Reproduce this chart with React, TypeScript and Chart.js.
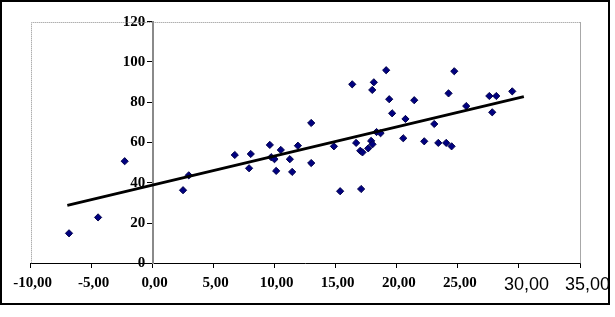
import React, { useEffect, useRef } from "react";
import { Chart, registerables } from "chart.js";

Chart.register(...registerables);

const xValues = [
  -6.86, -4.48, -2.3, 2.48, 2.95, 6.72, 8.03, 7.89, 9.59, 9.7, 9.97, 10.11, 10.49,
  11.23, 11.42, 11.89, 12.98, 12.98, 14.84, 15.35, 17.07, 16.34, 18.11, 17.98, 19.12,
  19.37, 21.42, 19.61, 20.7, 23.06, 16.66, 17.0, 17.18, 17.65, 17.89, 18.0, 18.33,
  18.66, 20.52, 22.24, 23.39, 24.04, 24.23, 24.48, 24.7, 25.68, 27.57, 28.14, 29.45,
  27.81,
];
const yValues = [
  14.9, 22.8, 50.7, 36.3, 43.7, 53.8, 54.3, 47.2, 58.8, 52.7, 51.7, 45.9, 56.3,
  51.7, 45.4, 58.4, 69.7, 49.8, 58.1, 35.8, 36.9, 88.9, 89.9, 86.1, 95.9,
  81.5, 81.0, 74.5, 71.7, 69.2, 59.8, 55.9, 55.1, 57.1, 60.8, 59.1, 65.2,
  64.6, 62.1, 60.6, 59.8, 59.8, 84.4, 58.1, 95.4, 78.1, 83.1, 83.1, 85.4,
  75.0,
];
const trendX = [-7.0, 30.4];
const trendY = [28.8, 82.8];
const xTicks = [-10, -5, 0, 5, 10, 15, 20, 25, 30, 35];
const yTicks = [0, 20, 40, 60, 80, 100, 120];

const plotBorder = {
  id: "plotBorder",
  beforeDatasetsDraw(chart: any) {
    const { ctx, chartArea: a } = chart;
    ctx.save();
    ctx.lineWidth = 1;
    ctx.strokeStyle = "#8c8c8c";
    ctx.setLineDash([1, 1]);
    ctx.beginPath();
    ctx.moveTo(Math.round(a.left) + 0.5, a.bottom);
    ctx.lineTo(Math.round(a.left) + 0.5, Math.round(a.top) + 0.5);
    ctx.lineTo(a.right, Math.round(a.top) + 0.5);
    ctx.stroke();
    ctx.setLineDash([]);
    ctx.strokeStyle = "#a8a8a8";
    ctx.beginPath();
    ctx.moveTo(Math.round(a.right) + 0.5, Math.round(a.top));
    ctx.lineTo(Math.round(a.right) + 0.5, a.bottom);
    ctx.stroke();
    ctx.restore();
  },
};

const serifFont = { family: "'Liberation Serif', 'Times New Roman', serif", size: 15, weight: "bold" };
const sansFont = { family: "'Liberation Sans', Arial, sans-serif", size: 18, weight: "normal" };

const noPad = (s: any) => {
  s.paddingLeft = 0;
  s.paddingRight = 0;
  s.paddingTop = 0;
  s.paddingBottom = 0;
};

export default function App() {
  const ref = useRef<HTMLCanvasElement>(null);
  useEffect(() => {
    if (!ref.current) return;
    const points = xValues.map((x, i) => ({ x, y: yValues[i] }));
    const trend = trendX.map((x, i) => ({ x, y: trendY[i] }));
    const chart = new Chart(ref.current, {
      type: "scatter",
      data: {
        datasets: [
          {
            type: "line",
            data: trend,
            borderColor: "#000000",
            borderWidth: 2.8,
            pointRadius: 0,
            showLine: true,
            fill: false,
          } as any,
          {
            data: points,
            pointStyle: "rectRot",
            pointRadius: 3.6,
            backgroundColor: "#000080",
            borderColor: "#00004a",
            borderWidth: 1,
          },
        ],
      },
      options: {
        animation: false,
        responsive: false,
        devicePixelRatio: 1,
        layout: { padding: { left: 30.7, top: 21.7, right: 28, bottom: 39.7 } },
        plugins: { legend: { display: false }, tooltip: { enabled: false } },
        scales: {
          x: {
            type: "linear",
            position: { y: 0 } as any,
            min: -10,
            max: 35,
            afterBuildTicks: (s: any) => {
              s.ticks = xTicks.map((v) => ({ value: v }));
            },
            afterFit: noPad,
            grid: {
              display: true,
              drawOnChartArea: false,
              drawTicks: true,
              tickLength: 4,
              tickColor: "#000000",
            },
            border: { display: true, color: "#000000", width: 1 },
            ticks: {
              padding: 7,
              color: "#000000",
              maxRotation: 0,
              autoSkip: false,
              callback: (v: any) => {
                const s = Number(v).toFixed(2).replace(".", ",");
                return Number(v) >= 30 ? "   " + s : " " + s;
              },
              font: (c: any) => (c.tick && c.tick.value >= 30 ? sansFont : serifFont),
            },
          },
          y: {
            type: "linear",
            position: { x: 0 } as any,
            min: 0,
            max: 120,
            afterBuildTicks: (s: any) => {
              s.ticks = yTicks.map((v) => ({ value: v }));
            },
            afterFit: noPad,
            grid: {
              display: true,
              drawOnChartArea: false,
              drawTicks: true,
              tickLength: 5,
              tickColor: "#000000",
            },
            border: { display: true, color: "#8a8a8a", width: 2, dash: [1, 1] },
            ticks: {
              padding: 2,
              color: "#000000",
              callback: (v: any) => String(v) + "  ",
              font: serifFont,
            },
          },
        },
      },
      plugins: [plotBorder],
    });
    return () => chart.destroy();
  }, []);

  return (
    <div style={{ position: "fixed", left: 0, top: 0, width: 615, height: 317, background: "#fff", overflow: "hidden" }}>
      <canvas ref={ref} width={608} height={303} style={{ position: "absolute", left: 0, top: 0, width: 608, height: 303 }} />
      <div
        style={{
          position: "absolute",
          left: 0,
          top: 0,
          width: 610,
          height: 305,
          border: "2px solid #000",
          boxSizing: "border-box",
          pointerEvents: "none",
        }}
      />
    </div>
  );
}
